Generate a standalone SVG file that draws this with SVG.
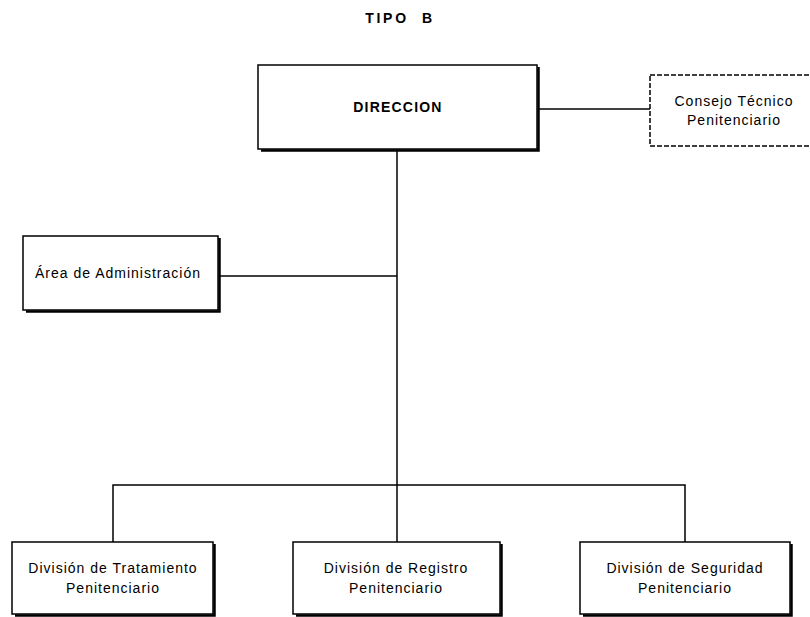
<svg xmlns="http://www.w3.org/2000/svg" width="810" height="617" viewBox="0 0 810 617">
  <style>
    .box { fill: #ffffff; stroke: #000000; stroke-width: 1.5; }
    .dash { fill: #ffffff; stroke: #000000; stroke-width: 1.5; stroke-dasharray: 5 2; }
    .shadow { fill: none; stroke: #000000; stroke-width: 2.5; }
    .line { fill: none; stroke: #000000; stroke-width: 1.5; }
    .t { font-family: "Liberation Sans", Arial, sans-serif; font-size: 14px; letter-spacing: 1px; fill: #000000; text-anchor: middle; }
    .b { font-family: "Liberation Sans", Arial, sans-serif; font-weight: bold; font-size: 14px; fill: #000000; text-anchor: middle; }
  </style>
  <rect width="810" height="617" fill="#ffffff"/>
  <text class="b" x="400" y="23" style="letter-spacing:2.7px" xml:space="preserve">TIPO  B</text>
  <g id="connectors">
    <line class="line" x1="397" y1="149" x2="397" y2="542"/>
    <line class="line" x1="538" y1="109" x2="650" y2="109"/>
    <line class="line" x1="219" y1="276" x2="397" y2="276"/>
    <polyline class="line" points="113,542 113,485 685,485 685,542"/>
  </g>
  <g id="direccion">
    <rect class="box" x="258" y="65" width="279" height="84"/>
    <path class="shadow" d="M538.5,67 V150.5 H261"/>
    <text class="b" x="398" y="112" style="letter-spacing:1.2px">DIRECCION</text>
  </g>
  <g id="consejo">
    <rect class="dash" x="650" y="75" width="170" height="71"/>
    <text class="t" x="734" y="106">Consejo Técnico</text>
    <text class="t" x="734" y="125">Penitenciario</text>
  </g>
  <g id="administracion">
    <rect class="box" x="23" y="236" width="195" height="74"/>
    <path class="shadow" d="M219.5,238 V311.5 H26"/>
    <text class="t" x="118" y="278">Área de Administración</text>
  </g>
  <g id="tratamiento">
    <rect class="box" x="12" y="542" width="201" height="72"/>
    <path class="shadow" d="M214.5,544 V615.5 H15"/>
    <text class="t" x="113" y="573">División de Tratamiento</text>
    <text class="t" x="113" y="593">Penitenciario</text>
  </g>
  <g id="registro">
    <rect class="box" x="293" y="542" width="207" height="72"/>
    <path class="shadow" d="M501.5,544 V615.5 H296"/>
    <text class="t" x="396" y="573">División de Registro</text>
    <text class="t" x="396" y="593">Penitenciario</text>
  </g>
  <g id="seguridad">
    <rect class="box" x="580" y="542" width="210" height="72"/>
    <path class="shadow" d="M791.5,544 V615.5 H583"/>
    <text class="t" x="685" y="573">División de Seguridad</text>
    <text class="t" x="685" y="593">Penitenciario</text>
  </g>
</svg>
